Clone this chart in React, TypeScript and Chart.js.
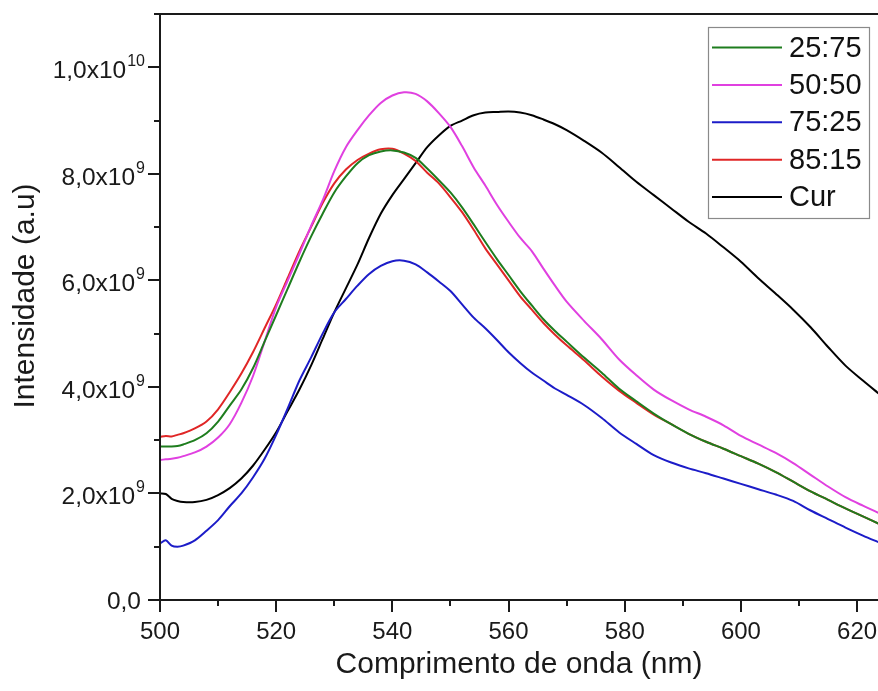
import React, { useEffect, useRef } from "react";
import { Chart, registerables } from "chart.js";

Chart.register(...registerables);

// Wavelength (nm)
const wavelengths = [500, 501, 502, 503, 504, 506, 508, 510, 512, 514, 516, 518, 520, 522, 524, 526, 528, 530, 532, 534, 536, 538, 540, 542, 544, 546, 548, 550, 552, 554, 556, 558, 560, 562, 564, 566, 568, 570, 573, 576, 579, 582, 585, 588, 591, 594, 597, 600, 603, 606, 609, 612, 615, 618, 621, 624];

// Intensity in units of 1e9 (a.u)
const s25_75 = [2.88, 2.88, 2.88, 2.89, 2.92, 3.0, 3.13, 3.35, 3.65, 3.95, 4.35, 4.85, 5.35, 5.85, 6.35, 6.82, 7.25, 7.65, 7.95, 8.2, 8.35, 8.42, 8.44, 8.4, 8.3, 8.1, 7.88, 7.65, 7.37, 7.05, 6.72, 6.4, 6.1, 5.8, 5.53, 5.27, 5.05, 4.85, 4.55, 4.27, 3.97, 3.73, 3.5, 3.3, 3.12, 2.97, 2.84, 2.7, 2.56, 2.4, 2.22, 2.04, 1.88, 1.72, 1.57, 1.42];
const s50_50 = [2.63, 2.64, 2.65, 2.67, 2.7, 2.77, 2.88, 3.05, 3.3, 3.7, 4.2, 4.85, 5.5, 6.0, 6.5, 7.02, 7.5, 8.05, 8.5, 8.82, 9.1, 9.33, 9.47, 9.53, 9.5, 9.36, 9.14, 8.88, 8.52, 8.12, 7.78, 7.42, 7.1, 6.8, 6.55, 6.22, 5.9, 5.6, 5.24, 4.9, 4.52, 4.22, 3.95, 3.75, 3.58, 3.44, 3.28, 3.08, 2.92, 2.76, 2.57, 2.35, 2.13, 1.93, 1.77, 1.62];
const s75_25 = [1.06, 1.12, 1.02, 1.0, 1.02, 1.12, 1.3, 1.5, 1.76, 2.0, 2.3, 2.65, 3.1, 3.6, 4.12, 4.55, 5.0, 5.4, 5.65, 5.9, 6.12, 6.27, 6.36, 6.37, 6.3, 6.15, 5.98, 5.8, 5.55, 5.3, 5.1, 4.88, 4.65, 4.45, 4.27, 4.12, 3.97, 3.85, 3.66, 3.42, 3.15, 2.93, 2.72, 2.58, 2.47, 2.38, 2.28, 2.18, 2.08, 1.98, 1.86, 1.68, 1.52, 1.36, 1.21, 1.07];
const s85_15 = [3.06, 3.08, 3.07, 3.1, 3.13, 3.22, 3.35, 3.58, 3.9, 4.25, 4.65, 5.1, 5.55, 6.05, 6.55, 7.0, 7.45, 7.82, 8.08, 8.26, 8.38, 8.46, 8.47, 8.38, 8.24, 8.02, 7.82, 7.56, 7.28, 6.95, 6.6, 6.3, 6.0, 5.7, 5.45, 5.2, 4.98, 4.78, 4.5, 4.2, 3.93, 3.7, 3.48, 3.3, 3.12, 2.97, 2.84, 2.7, 2.56, 2.4, 2.22, 2.04, 1.88, 1.72, 1.57, 1.42];
const sCur = [2.0, 1.99, 1.9, 1.86, 1.84, 1.84, 1.88, 1.97, 2.1, 2.28, 2.52, 2.82, 3.15, 3.55, 3.95, 4.4, 4.9, 5.4, 5.85, 6.3, 6.8, 7.25, 7.6, 7.9, 8.2, 8.5, 8.72, 8.9, 9.0, 9.1, 9.15, 9.16, 9.17, 9.15, 9.1, 9.02, 8.93, 8.82, 8.62, 8.4, 8.13, 7.85, 7.6, 7.35, 7.1, 6.88, 6.62, 6.35, 6.04, 5.75, 5.45, 5.12, 4.75, 4.4, 4.12, 3.85];

const seriesLabels = ["25:75", "50:50", "75:25", "85:15", "Cur"];
const seriesValues = [s25_75, s50_50, s75_25, s85_15, sCur];
const seriesColors = ["#1e7d1e", "#e040e0", "#1c1cc8", "#e02626", "#000000"];

// y tick labels: mantissa text and exponent (superscript)
const yTickBase: Record<number, string> = { 0: "0,0", 2: "2,0x10", 4: "4,0x10", 6: "6,0x10", 8: "8,0x10", 10: "1,0x10" };
const yTickExp: Record<number, string> = { 0: "", 2: "9", 4: "9", 6: "9", 8: "9", 10: "10" };

const xTitle = "Comprimento de onda (nm)";
const yTitle = "Intensidade (a.u)";
const FONT = "'Liberation Sans', Arial, sans-serif";
const INK = "#1a1a1a";

const framePlugin = {
  id: "frame",
  afterDraw(chart: any) {
    const { ctx, chartArea, scales } = chart;
    const x = scales.x;
    const y = scales.y;
    ctx.save();
    ctx.strokeStyle = INK;
    ctx.lineWidth = 2;
    ctx.lineCap = "butt";
    // axes lines
    ctx.beginPath();
    ctx.moveTo(chartArea.left, chartArea.top);
    ctx.lineTo(chartArea.left, chartArea.bottom + 1);
    ctx.moveTo(chartArea.left - 1, chartArea.bottom);
    ctx.lineTo(chartArea.right, chartArea.bottom);
    ctx.moveTo(chartArea.left - 1, chartArea.top);
    ctx.lineTo(chartArea.right, chartArea.top);
    ctx.stroke();
    // y ticks
    ctx.beginPath();
    y.ticks.forEach((t: any) => {
      const py = Math.round(y.getPixelForValue(t.value));
      const len = t.value % 2 === 0 ? 12 : 6;
      ctx.moveTo(chartArea.left - len, py);
      ctx.lineTo(chartArea.left, py);
    });
    // x ticks
    x.ticks.forEach((t: any) => {
      const px = Math.round(x.getPixelForValue(t.value));
      const len = t.value % 20 === 0 ? 12 : 6;
      ctx.moveTo(px, chartArea.bottom);
      ctx.lineTo(px, chartArea.bottom + len);
    });
    ctx.stroke();

    // y tick labels with superscript exponents
    ctx.fillStyle = INK;
    ctx.textBaseline = "alphabetic";
    ctx.textAlign = "right";
    y.ticks.forEach((t: any) => {
      const base = yTickBase[t.value];
      if (base === undefined) return;
      const exp = yTickExp[t.value];
      const py = y.getPixelForValue(t.value);
      const right = 145;
      if (exp) {
        ctx.font = `16px ${FONT}`;
        const ew = ctx.measureText(exp).width;
        ctx.fillText(exp, right, py - 1);
        ctx.font = `24.5px ${FONT}`;
        ctx.fillText(base, right - ew - 1, py + 11);
      } else {
        ctx.font = `24.5px ${FONT}`;
        ctx.fillText(base, right - 4, py + 8.5);
      }
    });

    // y title
    ctx.save();
    ctx.translate(26, 296);
    ctx.rotate(-Math.PI / 2);
    ctx.font = `30px ${FONT}`;
    ctx.fillStyle = INK;
    ctx.textAlign = "center";
    ctx.textBaseline = "middle";
    ctx.fillText(yTitle, 0, 0);
    ctx.restore();

    // legend
    const bx = 708, by = 27, bw = 161, bh = 191;
    ctx.lineWidth = 1.2;
    ctx.strokeStyle = "#8a8a8a";
    ctx.strokeRect(bx + 0.5, by + 0.5, bw, bh);
    ctx.font = `29px ${FONT}`;
    ctx.textBaseline = "middle";
    ctx.textAlign = "left";
    chart.data.datasets.forEach((ds: any, i: number) => {
      const cy = by + 20.5 + i * 37.4;
      ctx.strokeStyle = ds.borderColor;
      ctx.lineWidth = 2;
      ctx.beginPath();
      ctx.moveTo(712, cy);
      ctx.lineTo(782, cy);
      ctx.stroke();
      ctx.fillStyle = "#111";
      ctx.fillText(ds.label, 789, cy + 1);
    });
    ctx.restore();
  },
};

export default function App() {
  const canvasRef = useRef<HTMLCanvasElement | null>(null);

  useEffect(() => {
    const canvas = canvasRef.current;
    if (!canvas) return;
    const datasets = seriesLabels.map((label, i) => ({
      label,
      data: wavelengths.map((w, j) => ({ x: w, y: seriesValues[i][j] })),
      borderColor: seriesColors[i],
      backgroundColor: seriesColors[i],
      borderWidth: 2,
      pointRadius: 0,
      tension: 0.3,
      fill: false,
    }));
    const chart = new Chart(canvas, {
      type: "line",
      data: { datasets },
      plugins: [framePlugin],
      options: {
        animation: false,
        responsive: false,
        maintainAspectRatio: false,
        layout: { padding: { top: 14, right: 0, left: 0, bottom: 0 } },
        plugins: {
          legend: { display: false },
          tooltip: { enabled: false },
        },
        scales: {
          x: {
            type: "linear",
            min: 500,
            max: 623.6,
            afterFit: (s: any) => {
              s.height = 91;
              s.paddingLeft = 0;
              s.paddingRight = 0;
            },
            grid: { display: false, drawTicks: false },
            border: { display: false },
            ticks: {
              stepSize: 10,
              includeBounds: false,
              autoSkip: false,
              maxRotation: 0,
              padding: 18,
              color: INK,
              font: { size: 24, family: FONT },
              callback: (v: any) => (Number(v) % 20 === 0 ? String(v) : ""),
            },
            title: {
              display: true,
              text: xTitle,
              color: INK,
              font: { size: 30, family: FONT },
              padding: { top: 0, bottom: 8 },
            },
          },
          y: {
            type: "linear",
            min: 0,
            max: 11,
            afterFit: (s: any) => {
              s.width = 160;
              s.paddingTop = 0;
              s.paddingBottom = 0;
            },
            grid: { display: false, drawTicks: false },
            border: { display: false },
            ticks: {
              stepSize: 1,
              includeBounds: false,
              autoSkip: false,
              padding: 15,
              color: "rgba(0,0,0,0)",
              font: { size: 23, family: FONT },
              callback: (v: any) => (yTickBase[Number(v)] !== undefined ? yTickBase[Number(v)] + yTickExp[Number(v)] : ""),
            },
            title: { display: false },
          },
        },
      },
    });
    return () => chart.destroy();
  }, []);

  return (
    <div style={{ position: "fixed", left: 0, top: 0, width: 878, height: 691, background: "#fff" }}>
      <canvas ref={canvasRef} width={878} height={691} style={{ display: "block" }} />
    </div>
  );
}
